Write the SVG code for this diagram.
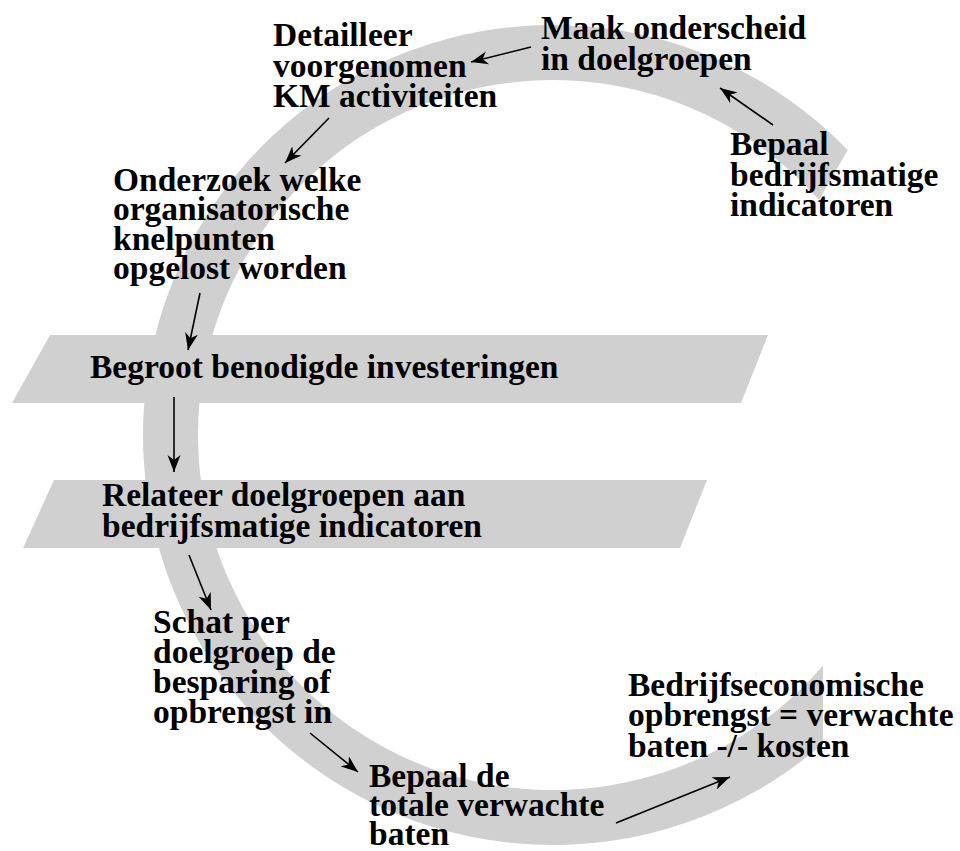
<svg xmlns="http://www.w3.org/2000/svg" width="960" height="851" viewBox="0 0 960 851">
<style>
.shape{fill:#d0d0d0;stroke:none}
.t{font-family:"Liberation Serif","Times New Roman",serif;font-weight:bold;font-size:33.5px;fill:#000}
.c{stroke:#000;stroke-width:1.6;fill:none;marker-end:url(#ah)}
</style>
<defs>
<marker id="ah" markerUnits="userSpaceOnUse" markerWidth="18" markerHeight="14" viewBox="0 -7 18 14" refX="17" refY="0" orient="auto">
<path d="M0,-6.5 L17,0 L0,6.5 L5,0 Z" fill="#000"/>
</marker>
</defs>
<g id="euro">
<path class="shape" d="M847.7,150 A410,410 0 1 0 823,743.5 L823,665.5 A355,355 0 1 1 819,200 Z"/>
<polygon class="shape" points="50,335 768,335 741,403 12,403"/>
<polygon class="shape" points="54,480 707,480 680,548 23,548"/>
</g>
<g id="n-maak"><text class="t"><tspan x="541" y="39">Maak onderscheid</tspan><tspan x="541" y="70">in doelgroepen</tspan></text></g>
<g id="n-detailleer"><text class="t"><tspan x="273" y="46">Detailleer</tspan><tspan x="273" y="77">voorgenomen</tspan><tspan x="273" y="107">KM activiteiten</tspan></text></g>
<g id="n-bepaal-ind"><text class="t"><tspan x="730" y="155">Bepaal</tspan><tspan x="730" y="186">bedrijfsmatige</tspan><tspan x="730" y="216">indicatoren</tspan></text></g>
<g id="n-onderzoek"><text class="t"><tspan x="113" y="191">Onderzoek welke</tspan><tspan x="113" y="220">organisatorische</tspan><tspan x="113" y="250">knelpunten</tspan><tspan x="113" y="279">opgelost worden</tspan></text></g>
<g id="n-begroot"><text class="t" x="90" y="378">Begroot benodigde investeringen</text></g>
<g id="n-relateer"><text class="t"><tspan x="102" y="506">Relateer doelgroepen aan</tspan><tspan x="102" y="537">bedrijfsmatige indicatoren</tspan></text></g>
<g id="n-schat"><text class="t"><tspan x="153" y="633">Schat per</tspan><tspan x="153" y="663">doelgroep de</tspan><tspan x="153" y="693">besparing of</tspan><tspan x="153" y="723">opbrengst in</tspan></text></g>
<g id="n-bepaal-baten"><text class="t"><tspan x="369" y="787">Bepaal de</tspan><tspan x="369" y="816">totale verwachte</tspan><tspan x="369" y="845">baten</tspan></text></g>
<g id="n-resultaat"><text class="t"><tspan x="628" y="696">Bedrijfseconomische</tspan><tspan x="628" y="726">opbrengst = verwachte</tspan><tspan x="628" y="757">baten -/- kosten</tspan></text></g>
<g id="connectors">
<line class="c" x1="773" y1="125" x2="720" y2="88"/>
<line class="c" x1="531" y1="47" x2="471" y2="62"/>
<line class="c" x1="329" y1="118" x2="285" y2="163"/>
<line class="c" x1="200" y1="293" x2="188" y2="350"/>
<line class="c" x1="174" y1="397" x2="174" y2="472"/>
<line class="c" x1="189" y1="555" x2="211" y2="610"/>
<line class="c" x1="310" y1="733" x2="358" y2="772"/>
<line class="c" x1="616" y1="823" x2="730" y2="777"/>
</g>
</svg>
